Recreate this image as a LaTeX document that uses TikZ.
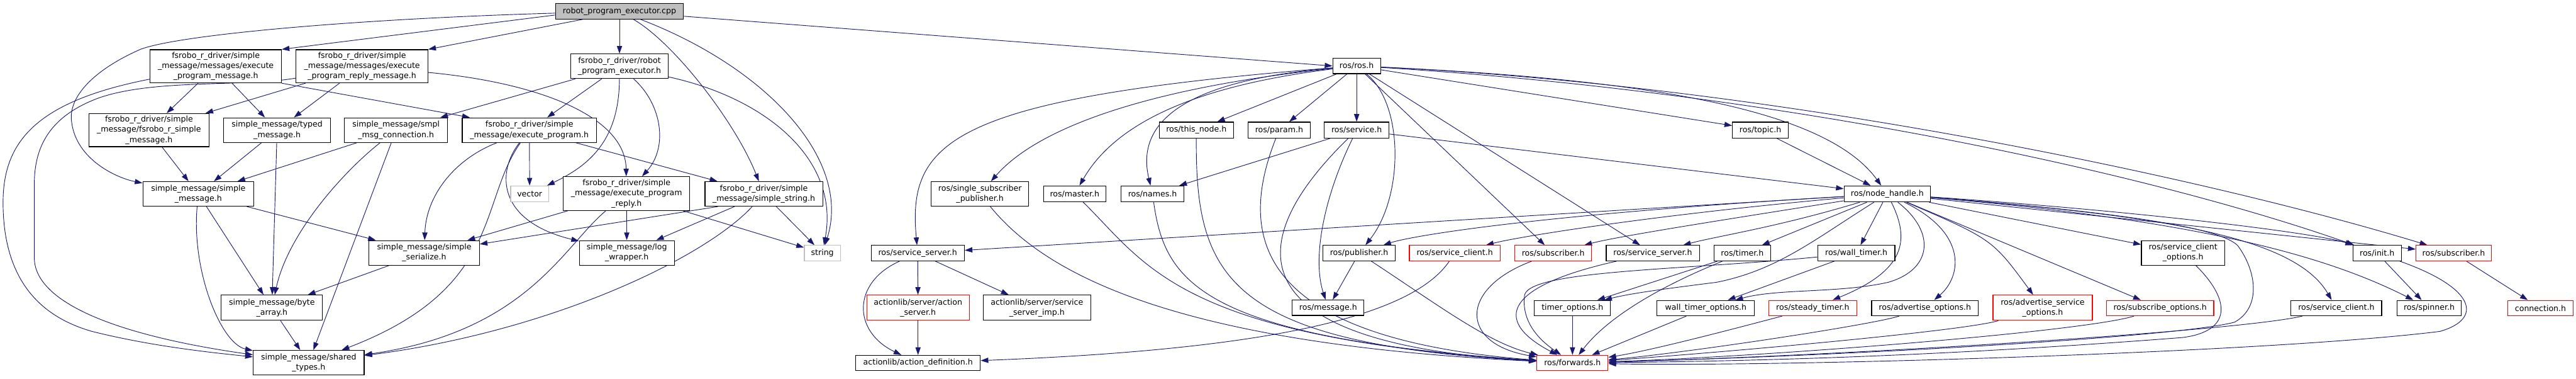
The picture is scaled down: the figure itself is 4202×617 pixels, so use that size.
\documentclass[tikz,border=0pt]{standalone}
\usepackage{fontspec}
\setmainfont{DejaVu Sans}
\usetikzlibrary{arrows.meta,backgrounds}
\definecolor{midnight}{HTML}{191970}
\definecolor{lightgr}{HTML}{BFBFBF}
\tikzset{
  box/.style={draw=black, line width=1.2pt, fill=white, inner sep=0pt, align=center, text=black,
              font=\fontsize{12.9pt}{16.6pt}\selectfont},
  redbox/.style={box, draw=red},
  graybox/.style={box, draw=lightgr},
  rootbox/.style={box, fill=lightgr},
  edge/.style={draw=midnight, line width=0.95pt, -{Triangle[length=12.5pt,width=8.5pt]}}
}
\begin{document}
\begin{tikzpicture}[x=1pt,y=-1pt]
\useasboundingbox (0,0) rectangle (4202,617);
% ---------- left cluster ----------
\node[rootbox, minimum width=209pt, minimum height=25pt] (root) at (1010.5,18.5) {robot\_program\_executor.cpp};
\node[box, minimum width=214pt, minimum height=54pt] (epm) at (352,108) {fsrobo\_r\_driver/simple\\\_message/messages/execute\\\_program\_message.h};
\node[box, minimum width=215pt, minimum height=54pt] (eprm) at (590.5,108) {fsrobo\_r\_driver/simple\\\_message/messages/execute\\\_program\_reply\_message.h};
\node[box, minimum width=159pt, minimum height=40pt] (rpe) at (1010.5,108) {fsrobo\_r\_driver/robot\\\_program\_executor.h};
\node[box, minimum width=196pt, minimum height=54pt] (fsm) at (243,212) {fsrobo\_r\_driver/simple\\\_message/fsrobo\_r\_simple\\\_message.h};
\node[box, minimum width=174pt, minimum height=40pt] (tm) at (452,212) {simple\_message/typed\\\_message.h};
\node[box, minimum width=168pt, minimum height=40pt] (smc) at (646,212) {simple\_message/smpl\\\_msg\_connection.h};
\node[box, minimum width=219pt, minimum height=40pt] (ep) at (863.5,212) {fsrobo\_r\_driver/simple\\\_message/execute\_program.h};
\node[box, minimum width=181pt, minimum height=40pt] (sm) at (323.5,316) {simple\_message/simple\\\_message.h};
\node[graybox, minimum width=62pt, minimum height=26pt] (vector) at (864,316) {vector};
\node[box, minimum width=206pt, minimum height=55pt] (epr) at (1022,315.5) {fsrobo\_r\_driver/simple\\\_message/execute\_program\\\_reply.h};
\node[box, minimum width=192pt, minimum height=40pt] (ss) at (1246,316) {fsrobo\_r\_driver/simple\\\_message/simple\_string.h};
\node[box, minimum width=180pt, minimum height=40pt] (ser) at (692,412) {simple\_message/simple\\\_serialize.h};
\node[box, minimum width=155pt, minimum height=40pt] (lw) at (1022.5,412) {simple\_message/log\\\_wrapper.h};
\node[graybox, minimum width=59pt, minimum height=25pt] (string) at (1341.5,412.5) {string};
\node[box, minimum width=165pt, minimum height=41pt] (ba) at (443.5,501.5) {simple\_message/byte\\\_array.h};
\node[box, minimum width=181pt, minimum height=40pt] (st) at (503.5,591) {simple\_message/shared\\\_types.h};
% ---------- ros cluster ----------
\node[box, minimum width=78pt, minimum height=25pt] (rosh) at (2213,107.5) {ros/ros.h};
\node[box, minimum width=121pt, minimum height=26pt] (thisnode) at (1951.5,212) {ros/this\_node.h};
\node[box, minimum width=101pt, minimum height=26pt] (param) at (2086.5,212) {ros/param.h};
\node[box, minimum width=106pt, minimum height=26pt] (service) at (2213,212) {ros/service.h};
\node[box, minimum width=91pt, minimum height=26pt] (topic) at (2871.5,212) {ros/topic.h};
\node[box, minimum width=159pt, minimum height=40pt] (ssp) at (1598.5,316) {ros/single\_subscriber\\\_publisher.h};
\node[box, minimum width=102pt, minimum height=26pt] (master) at (1753,316) {ros/master.h};
\node[box, minimum width=102pt, minimum height=26pt] (names) at (1880,316) {ros/names.h};
\node[box, minimum width=141pt, minimum height=26pt] (nh) at (3078.5,316) {ros/node\_handle.h};
\node[box, minimum width=152pt, minimum height=25pt] (srvL) at (1497,412.5) {ros/service\_server.h};
\node[box, minimum width=118pt, minimum height=25pt] (publisher) at (2217,412.5) {ros/publisher.h};
\node[redbox, minimum width=148pt, minimum height=25pt] (svcclient) at (2373,412.5) {ros/service\_client.h};
\node[redbox, minimum width=125pt, minimum height=25pt] (subM) at (2533.5,412.5) {ros/subscriber.h};
\node[box, minimum width=152pt, minimum height=25pt] (srvM) at (2696,412.5) {ros/service\_server.h};
\node[box, minimum width=92pt, minimum height=25pt] (timer) at (2842,412.5) {ros/timer.h};
\node[box, minimum width=126pt, minimum height=25pt] (walltimer) at (3028,412.5) {ros/wall\_timer.h};
\node[box, minimum width=136pt, minimum height=40pt] (sco) at (3561,412) {ros/service\_client\\\_options.h};
\node[box, minimum width=79pt, minimum height=25pt] (init) at (3877.5,412.5) {ros/init.h};
\node[redbox, minimum width=123pt, minimum height=25pt] (subR) at (4002.5,412.5) {ros/subscriber.h};
\node[redbox, minimum width=167pt, minimum height=41pt] (actsrv) at (1497.5,501.5) {actionlib/server/action\\\_server.h};
\node[box, minimum width=175pt, minimum height=41pt] (ssimp) at (1691.5,501.5) {actionlib/server/service\\\_server\_imp.h};
\node[box, minimum width=117pt, minimum height=25pt] (message) at (2166.5,501.5) {ros/message.h};
\node[box, minimum width=124pt, minimum height=25pt] (timeropt) at (2565,502) {timer\_options.h};
\node[box, minimum width=159pt, minimum height=25pt] (wtopt) at (2782.5,502) {wall\_timer\_options.h};
\node[redbox, minimum width=144pt, minimum height=25pt] (steady) at (2957,502) {ros/steady\_timer.h};
\node[box, minimum width=174pt, minimum height=25pt] (advopt) at (3140,502) {ros/advertise\_options.h};
\node[redbox, minimum width=162pt, minimum height=41pt] (advsvc) at (3332,501.5) {ros/advertise\_service\\\_options.h};
\node[redbox, minimum width=175pt, minimum height=25pt] (subopt) at (3523.5,502) {ros/subscribe\_options.h};
\node[box, minimum width=148pt, minimum height=25pt] (svcclienth) at (3811,502) {ros/service\_client.h};
\node[box, minimum width=105pt, minimum height=25pt] (spinner) at (3962.5,502) {ros/spinner.h};
\node[redbox, minimum width=106pt, minimum height=25pt] (connection) at (4144,502) {connection.h};
\node[box, minimum width=203pt, minimum height=25pt] (actdef) at (1497.5,591.5) {actionlib/action\_definition.h};
\node[redbox, minimum width=116pt, minimum height=25pt] (forwards) at (2565,591.5) {ros/forwards.h};

\begin{scope}[on background layer]
% root
\draw[edge] (root) .. controls (600,30) and (300,55) .. (230,80) .. controls (150,115) and (110,160) .. (117,200) .. controls (125,260) and (190,290) .. (sm);
\draw[edge] ([yshift=-6pt]root.west) -- (epm.north east);
\draw[edge] ([xshift=45pt]root.south west) -- (eprm.north east);
\draw[edge] (root) -- (rpe);
\draw[edge] (root) .. controls (1100,70) and (1200,200) .. (ss);
\draw[edge] (root) .. controls (1250,110) and (1390,260) .. (string);
\draw[edge] ([yshift=-8pt]root.east) -- (rosh.west);
% epm
\draw[edge] (epm) -- (fsm);
\draw[edge] (epm) -- (tm);
\draw[edge] (epm.south east) -- ([xshift=13pt]ep.north west);
\draw[edge] (epm) .. controls (60,165) and (5,230) .. (5,330) .. controls (5,470) and (80,520) .. (150,540) .. controls (250,565) and (350,575) .. (st);
% eprm
\draw[edge] (eprm) .. controls (400,142) and (250,128) .. (160,160) .. controls (80,190) and (56,240) .. (56,300) -- (56,420) .. controls (56,490) and (180,545) .. (st);
\draw[edge] (eprm) -- (fsm);
\draw[edge] (eprm) -- (tm);
\draw[edge] (eprm) .. controls (880,135) and (1020,190) .. (epr);
% middle
\draw[edge] (fsm) -- (sm);
\draw[edge] (tm) -- (sm);
\draw[edge] (tm) -- (ba);
\draw[edge] (smc) -- (sm);
\draw[edge] (smc) .. controls (560,280) and (470,380) .. (ba);
\draw[edge] (smc) -- (st);
\draw[edge] (sm) -- (ba);
\draw[edge] (sm) .. controls (312,440) and (360,560) .. (st);
\draw[edge] (sm) -- (ser);
\draw[edge] (ser) -- (ba);
\draw[edge] (ba) -- (st);
% rpe
\draw[edge] (rpe) -- (smc);
\draw[edge] (rpe) -- (ep);
\draw[edge] (rpe) .. controls (1010,230) and (960,270) .. (vector);
\draw[edge] (rpe) .. controls (1080,170) and (1090,240) .. (epr);
\draw[edge] (rpe) .. controls (1250,160) and (1370,260) .. (string);
% ep
\draw[edge] (ep) -- (vector);
\draw[edge] (ep) .. controls (740,260) and (695,320) .. (ser);
\draw[edge] (ep) -- (ss);
\draw[edge] (ep) .. controls (810,280) and (810,360) .. (lw);
\draw[edge] (ep) .. controls (780,330) and (820,470) .. (st);
% epr
\draw[edge] (epr) -- (ser);
\draw[edge] (epr) -- (lw);
\draw[edge] (epr) .. controls (920,400) and (860,540) .. (st);
\draw[edge] (epr) -- (string);
% ss
\draw[edge] ([xshift=-75pt]ss.south) -- (ser);
\draw[edge] (ss) -- (lw);
\draw[edge] (ss) -- (string);
\draw[edge] (ss) .. controls (1150,420) and (900,540) .. (st);
% ros.h
\draw[edge] (rosh) .. controls (1550,160) and (1480,230) .. (srvL);
\draw[edge] (rosh) .. controls (1900,140) and (1700,200) .. (ssp);
\draw[edge] (rosh) .. controls (1950,140) and (1820,200) .. (master);
\draw[edge] (rosh) .. controls (1950,130) and (1850,190) .. (names);
\draw[edge] (rosh) -- (thisnode);
\draw[edge] (rosh) -- (param);
\draw[edge] (rosh) -- (service);
\draw[edge] (rosh) .. controls (2290,170) and (2290,320) .. (publisher);
\draw[edge] (rosh) -- (subM);
\draw[edge] (rosh) -- (srvM);
\draw[edge] (rosh) -- (topic);
\draw[edge] (rosh) .. controls (2700,130) and (2980,180) .. (nh);
\draw[edge] (rosh) .. controls (2900,150) and (3500,280) .. (init);
\draw[edge] (rosh) .. controls (2900,140) and (3600,290) .. (subR);
% service
\draw[edge] (service) -- (names);
\draw[edge] (service) .. controls (2020,400) and (2020,560) .. (forwards);
\draw[edge] (service) .. controls (2160,320) and (2140,420) .. (message);
\draw[edge] (service) -- (nh);
% into forwards from the left
\draw[edge] (thisnode) .. controls (1950,450) and (2000,560) .. (forwards);
\draw[edge] (param) .. controls (2020,380) and (2040,550) .. (forwards);
\draw[edge] (names) .. controls (1900,460) and (1960,550) .. (forwards);
\draw[edge] (master) .. controls (1870,430) and (1920,550) .. (forwards);
\draw[edge] (ssp) .. controls (1700,440) and (1900,560) .. (forwards);
\draw[edge] (topic) -- (nh);
% service server
\draw[edge] (srvL) -- (actsrv);
\draw[edge] (srvL) -- (ssimp);
\draw[edge] (srvL) .. controls (1390,460) and (1390,540) .. (actdef);
\draw[edge] (actsrv) -- (actdef);
\draw[edge] (publisher) -- (message);
\draw[edge] (publisher) .. controls (2350,500) and (2430,560) .. (forwards);
\draw[edge] (svcclient) .. controls (2300,520) and (2050,570) .. (actdef);
\draw[edge] (subM) .. controls (2380,470) and (2380,560) .. (forwards);
\draw[edge] (srvM) .. controls (2460,465) and (2430,520) .. (forwards);
% node handle
\draw[edge] (nh) -- (srvL);
\draw[edge] (nh) .. controls (2500,350) and (2300,385) .. (publisher);
\draw[edge] (nh) .. controls (2700,350) and (2480,385) .. (svcclient);
\draw[edge] (nh) .. controls (2800,360) and (2640,385) .. (subM);
\draw[edge] (nh) .. controls (2900,370) and (2800,385) .. (srvM);
\draw[edge] (nh) -- (timer);
\draw[edge] (nh) -- (walltimer);
\draw[edge] (nh) -- (sco);
\draw[edge] (nh) .. controls (2960,390) and (2900,440) .. (2800,460) .. controls (2720,470) and (2660,478) .. (timeropt);
\draw[edge] (timer) -- (timeropt);
\draw[edge] (timer) .. controls (2700,470) and (2620,520) .. (forwards);
\draw[edge] (walltimer) -- (wtopt);
\draw[edge] (walltimer) .. controls (2750,440) and (2500,440) .. (2487,480) .. controls (2480,530) and (2520,560) .. (forwards);
\draw[edge] (nh) .. controls (3160,380) and (3150,440) .. (3080,460) .. controls (3000,478) and (2900,470) .. (wtopt);
\draw[edge] (nh) .. controls (3115,390) and (3110,440) .. (steady);
\draw[edge] (nh) .. controls (3210,380) and (3200,450) .. (advopt);
\draw[edge] (nh) .. controls (3250,390) .. (advsvc);
\draw[edge] (nh) -- (subopt);
\draw[edge] (nh) .. controls (3500,350) and (3740,380) .. (svcclienth);
\draw[edge] (nh) .. controls (3600,360) and (3800,420) .. (spinner);
\draw[edge] (nh) .. controls (3500,345) and (3780,380) .. (init);
\draw[edge] (nh) -- (subR);
\draw[edge] (nh) .. controls (3450,345) and (3620,370) .. (3650,400) .. controls (3680,440) and (3690,500) .. (3645,525) .. controls (3550,550) and (3000,580) .. (forwards);
% right part
\draw[edge] (init) -- (spinner);
\draw[edge] (init) .. controls (4040,470) and (4050,520) .. (3980,540) .. controls (3700,575) and (2900,598) .. (forwards);
\draw[edge] (subR) -- (connection);
\draw[edge] (sco) .. controls (3640,490) and (3640,540) .. (3560,550) .. controls (3200,578) and (2900,588) .. (forwards);
\draw[edge] (svcclienth) .. controls (3650,540) and (3000,580) .. (forwards);
\draw[edge] (subopt) .. controls (3400,540) and (2900,580) .. (forwards);
\draw[edge] (advsvc) .. controls (3200,540) and (2800,575) .. (forwards);
\draw[edge] (advopt) .. controls (3050,530) and (2750,575) .. (forwards);
\draw[edge] (steady) .. controls (2850,530) and (2700,570) .. (forwards);
\draw[edge] (wtopt) -- (forwards);
\draw[edge] (timeropt) -- (forwards);
\end{scope}
\end{tikzpicture}
\end{document}
